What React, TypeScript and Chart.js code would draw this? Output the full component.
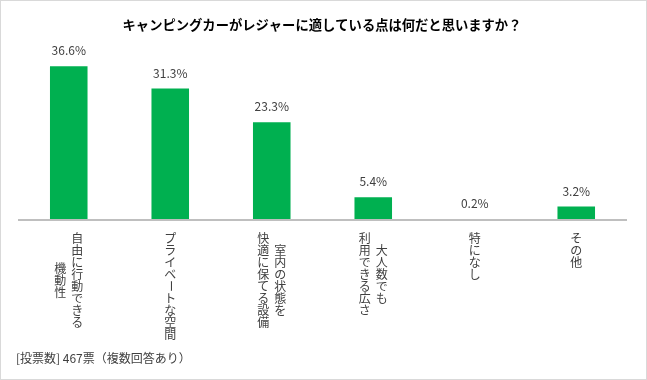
import React, { useEffect, useRef } from "react";
import { Chart, registerables } from "chart.js";

Chart.register(...registerables);

const TITLE = "キャンピングカーがレジャーに適している点は何だと思いますか？";
const FOOTNOTE = "[投票数] 467票（複数回答あり）";
const categories: string[][] = [
  ["自由に行動できる", "機動性"],
  ["プライベートな空間"],
  ["室内の状態を", "快適に保てる設備"],
  ["大人数でも", "利用できる広さ"],
  ["特になし"],
  ["その他"],
];
const values = [36.6, 31.3, 23.3, 5.4, 0.2, 3.2];
const valueLabels = values.map((v) => v.toFixed(1) + "%");

const FONT = "'Noto Sans CJK JP', 'Noto Sans', sans-serif";

const decorPlugin = {
  id: "decor",
  beforeDraw(chart: any) {
    const { ctx, width, height } = chart;
    ctx.save();
    ctx.fillStyle = "#ffffff";
    ctx.fillRect(0, 0, width, height);
    ctx.strokeStyle = "#D9D9D9";
    ctx.lineWidth = 1;
    ctx.strokeRect(0.5, 0.5, width - 1, height - 1);
    ctx.restore();
  },
  afterDraw(chart: any) {
    const { ctx, chartArea } = chart;
    const xScale = chart.scales.x;
    ctx.save();
    // axis line
    ctx.strokeStyle = "#BFBFBF";
    ctx.lineWidth = 2;
    ctx.beginPath();
    ctx.moveTo(chartArea.left, chartArea.bottom);
    ctx.lineTo(chartArea.right, chartArea.bottom);
    ctx.stroke();

    // title
    ctx.fillStyle = "#000000";
    ctx.font = `bold 13.3px ${FONT}`;
    ctx.textAlign = "center";
    ctx.textBaseline = "middle";
    ctx.fillText(TITLE, 322, 25);

    // value labels
    const meta = chart.getDatasetMeta(0);
    ctx.fillStyle = "#404040";
    ctx.font = `12px ${FONT}`;
    ctx.textBaseline = "alphabetic";
    meta.data.forEach((bar: any, i: number) => {
      ctx.fillText(valueLabels[i], bar.x, bar.y - 11);
    });

    // vertical category labels
    const pitch = 12;
    const colGap = 17;
    const top = chartArea.bottom + 12;
    ctx.fillStyle = "#404040";
    ctx.font = `12px ${FONT}`;
    ctx.textAlign = "center";
    ctx.textBaseline = "middle";
    categories.forEach((lines, i) => {
      const cx = xScale.getPixelForValue(i);
      const n = lines.length;
      const maxLen = Math.max(...lines.map((l) => Array.from(l).length));
      lines.forEach((line, li) => {
        const chars = Array.from(line);
        const x = cx + ((n - 1) / 2 - li) * colGap;
        const start = top + ((maxLen - chars.length) * pitch) / 2;
        chars.forEach((ch, k) => {
          const y = start + pitch * (k + 0.5);
          if (ch === "ー") {
            ctx.save();
            ctx.translate(x, y);
            ctx.rotate(Math.PI / 2);
            ctx.fillText(ch, 0, 0);
            ctx.restore();
          } else {
            ctx.fillText(ch, x, y);
          }
        });
      });
    });

    // footnote
    ctx.fillStyle = "#404040";
    ctx.font = `12px ${FONT}`;
    ctx.textAlign = "left";
    ctx.textBaseline = "middle";
    ctx.fillText(FOOTNOTE, 16, 358);
    ctx.restore();
  },
};

export default function App() {
  const ref = useRef<HTMLCanvasElement | null>(null);
  useEffect(() => {
    if (!ref.current) return;
    const chart = new Chart(ref.current, {
      type: "bar",
      data: {
        labels: categories.map((c) => c.join("")),
        datasets: [
          {
            data: values,
            backgroundColor: "#00B050",
            borderWidth: 0,
            barPercentage: 0.37,
            categoryPercentage: 1,
          },
        ],
      },
      options: {
        responsive: false,
        animation: false,
        layout: { padding: { left: 18, right: 20, top: 52, bottom: 160 } },
        plugins: {
          legend: { display: false },
          title: { display: false },
          tooltip: { enabled: false },
        },
        scales: {
          x: { display: false },
          y: { display: false, min: 0, max: 40 },
        },
      },
      plugins: [decorPlugin],
    });
    return () => chart.destroy();
  }, []);
  return (
    <div style={{ position: "fixed", left: 0, top: 0, width: 647, height: 380 }}>
      <canvas ref={ref} width={647} height={380} style={{ display: "block" }} />
    </div>
  );
}
